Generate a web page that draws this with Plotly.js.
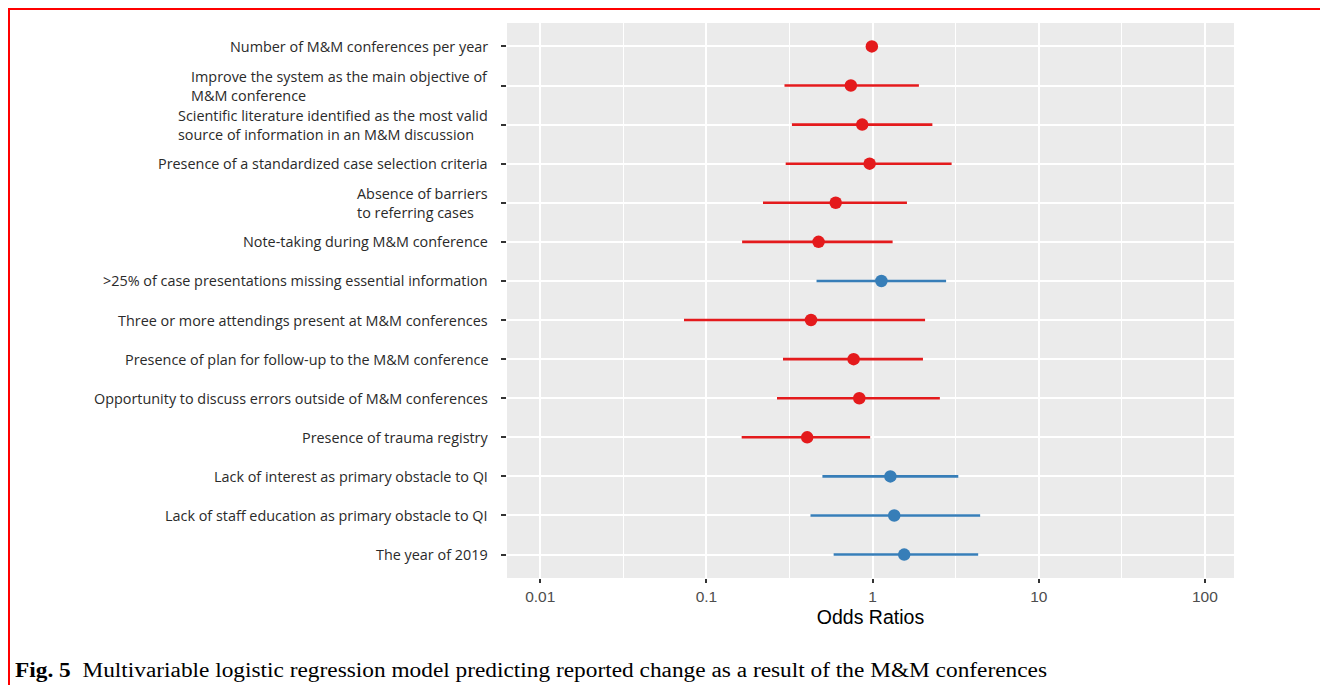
<!DOCTYPE html>
<html>
<head>
<meta charset="utf-8">
<script src="https://cdn.plot.ly/plotly-3.0.1.min.js"></script>
<style>
  html, body { margin: 0; padding: 0; background: #fff; }
  #wrap { position: relative; width: 1320px; height: 685px; overflow: hidden; }
  #chart { position: absolute; left: 0; top: 0; width: 1320px; height: 685px; }
  #bt { position: absolute; left: 8px; top: 8px; width: 1312px; height: 2px; background: #ff0000; }
  #bl { position: absolute; left: 8px; top: 8px; width: 2px; height: 677px; background: #ff0000; }
  #cap { position: absolute; left: 15px; top: 657px; white-space: nowrap;
         font-family: "Liberation Serif", "Times New Roman", serif; font-size: 20px; line-height: 26px;
         color: #000; transform-origin: 0 50%; }
</style>
</head>
<body>
<div id="wrap">
  <div id="chart"></div>
  <div id="bt"></div>
  <div id="bl"></div>
  <div id="cap"></div>
</div>
<script>
// ---- data ----
const labels = [
  "Number of M&M conferences per year",
  "Improve the system as the main objective of<br>M&M conference",
  "Scientific literature identified as the most valid<br>source of information in an M&M discussion",
  "Presence of a standardized case selection criteria",
  "Absence of barriers<br>to referring cases",
  "Note-taking during M&M conference",
  ">25% of case presentations missing essential information",
  "Three or more attendings present at M&M conferences",
  "Presence of plan for follow-up to the M&M conference",
  "Opportunity to discuss errors outside of M&M conferences",
  "Presence of trauma registry",
  "Lack of interest as primary obstacle to QI",
  "Lack of staff education as primary obstacle to QI",
  "The year of 2019"
];
const oddsRatio = [0.99, 0.74, 0.866, 0.96, 0.60, 0.473, 1.13, 0.426, 0.769, 0.832, 0.404, 1.28, 1.35, 1.55];
const ciLower   = [0.97, 0.295, 0.327, 0.30, 0.219, 0.164, 0.46, 0.0733, 0.289, 0.266, 0.163, 0.499, 0.423, 0.583];
const ciUpper   = [1.01, 1.90, 2.29, 2.99, 1.61, 1.32, 2.77, 2.07, 2.01, 2.54, 0.967, 3.28, 4.44, 4.32];
const xTickVals = [0.01, 0.1, 1, 10, 100];
const xTickText = ["0.01", "0.1", "1", "10", "100"];
const captionBold = "Fig. 5";
const captionText = "Multivariable logistic regression model predicting reported change as a result of the M&M conferences";

// ---- caption (real text, stretched to the reference width) ----
const cap = document.getElementById("cap");
const b = document.createElement("b"); b.textContent = captionBold;
cap.appendChild(b);
cap.appendChild(document.createTextNode("\u00a0\u00a0" + captionText));
const w = cap.getBoundingClientRect().width;
cap.style.transform = "scaleX(" + (1032 / w) + ")";

// ---- build traces ----
const RED = "#E41A1C", BLUE = "#377EB8";
const rows = labels.map((_, i) => i + 1);
function makeTrace(sel, color) {
  const idx = rows.map((r, i) => i).filter(sel);
  return {
    type: "scatter", mode: "markers",
    x: idx.map(i => oddsRatio[i]),
    y: idx.map(i => rows[i]),
    marker: { color: color, size: 12.5, line: { width: 0 } },
    error_x: {
      type: "data", symmetric: false,
      array: idx.map(i => ciUpper[i] - oddsRatio[i]),
      arrayminus: idx.map(i => oddsRatio[i] - ciLower[i]),
      color: color, thickness: 2.6, width: 0
    },
    hoverinfo: "x+y", showlegend: false
  };
}
const traces = [
  makeTrace(i => oddsRatio[i] < 1, RED),
  makeTrace(i => oddsRatio[i] >= 1, BLUE)
];

// minor gridlines at half decades
const minorVals = [];
for (let k = 0; k < xTickVals.length - 1; k++) minorVals.push(Math.sqrt(xTickVals[k] * xTickVals[k + 1]));

const L = 506.6, R = 1234, T = 23, B = 578;
const annotations = labels.map((t, i) => ({
  xref: "paper", yref: "y", x: 0, y: rows[i],
  xanchor: "right", yanchor: "middle", align: "left",
  xshift: -17, showarrow: false, text: t,
  font: { family: "Open Sans, sans-serif", size: 14.4, color: "#2a2a2a" }
}));

const layout = {
  width: 1320, height: 685,
  margin: { l: L, r: 1320 - R, t: T, b: 685 - B, pad: 0 },
  paper_bgcolor: "rgba(0,0,0,0)", plot_bgcolor: "#EBEBEB",
  xaxis: {
    type: "log", range: [-2.2, 2.175],
    tickmode: "array", tickvals: xTickVals, ticktext: xTickText,
    ticks: "outside", ticklen: 4, tickwidth: 1.5, tickcolor: "#333",
    tickfont: { family: "Liberation Sans, Arial, sans-serif", size: 15.5, color: "#4D4D4D" },
    showgrid: true, gridcolor: "#ffffff", gridwidth: 1.9,
    minor: { tickmode: "array", tickvals: minorVals, showgrid: true, gridcolor: "#ffffff", gridwidth: 1, ticks: "" },
    zeroline: false, showline: false,
    title: { text: "Odds Ratios", standoff: 6, font: { family: "Liberation Sans, Arial, sans-serif", size: 19.5, color: "#000" } },
    fixedrange: true
  },
  yaxis: {
    range: [14.6, 0.4],
    tickmode: "array", tickvals: rows, showticklabels: false,
    ticks: "outside", ticklen: 5, tickwidth: 1.8, tickcolor: "#333",
    showgrid: true, gridcolor: "#ffffff", gridwidth: 1.9,
    zeroline: false, showline: false, fixedrange: true
  },
  annotations: annotations,
  hovermode: "closest"
};

Plotly.newPlot("chart", traces, layout, { displayModeBar: false });
</script>
</body>
</html>
